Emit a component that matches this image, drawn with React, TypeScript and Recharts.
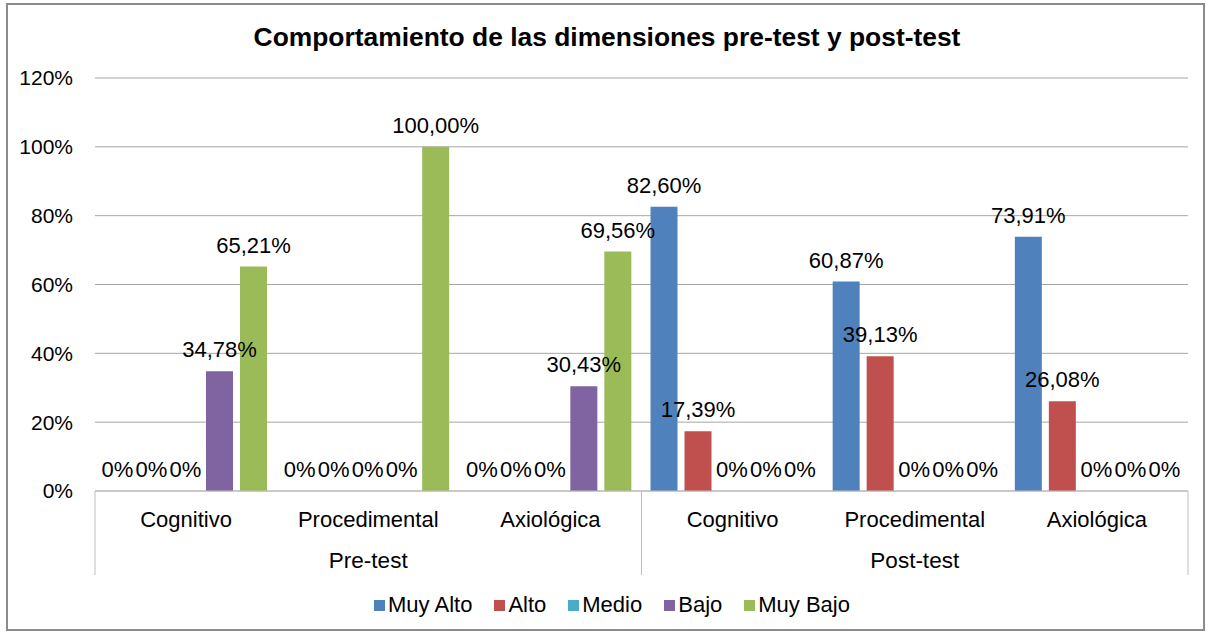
import React from "react";
import { BarChart, Bar, XAxis, YAxis, CartesianGrid, LabelList, Legend } from "recharts";

const categories = ["Cognitivo", "Procedimental", "Axiológica", "Cognitivo", "Procedimental", "Axiológica"];
const groups = ["Pre-test", "Post-test"];
const muyAlto = [0, 0, 0, 82.6, 60.87, 73.91];
const alto = [0, 0, 0, 17.39, 39.13, 26.08];
const medio = [0, 0, 0, 0, 0, 0];
const bajo = [34.78, 0, 30.43, 0, 0, 0];
const muyBajo = [65.21, 100, 69.56, 0, 0, 0];
const yTicks = [0, 20, 40, 60, 80, 100, 120];

const seriesNames = ["Muy Alto", "Alto", "Medio", "Bajo", "Muy Bajo"];
const seriesKeys = ["muyAlto", "alto", "medio", "bajo", "muyBajo"];
const seriesColors = ["#4F81BD", "#C0504D", "#4BACC6", "#8064A2", "#9BBB59"];

const data = categories.map((c, i) => ({
  id: String(i),
  cat: c,
  group: groups[Math.floor(i / 3)],
  muyAlto: muyAlto[i],
  alto: alto[i],
  medio: medio[i],
  bajo: bajo[i],
  muyBajo: muyBajo[i],
}));

const FONT = "'Liberation Sans', Arial, sans-serif";

const fmt = (v: any) => {
  const n = Number(v);
  if (n === 0) return "0%";
  return n.toFixed(2).replace(".", ",") + "%";
};

const CatTick = (props: any) => {
  const { x, y, index, width } = props;
  const n = categories.length;
  const band = (width || 1093) / n;
  const parts: any[] = [];
  parts.push(
    <text key="c" x={x} y={y + 36} textAnchor="middle" fontSize={22} fill="#000" fontFamily={FONT}>
      {categories[index]}
    </text>
  );
  if (index % 3 === 1) {
    parts.push(
      <text key="g" x={x} y={y + 77} textAnchor="middle" fontSize={22.5} fill="#000" fontFamily={FONT}>
        {groups[Math.floor(index / 3)]}
      </text>
    );
  }
  if (index % 3 === 0) {
    parts.push(<line key="l" x1={x - band / 2} x2={x - band / 2} y1={y} y2={y + 84} stroke="#BFBFBF" strokeWidth={1} />);
  }
  if (index === n - 1) {
    parts.push(<line key="r" x1={x + band / 2} x2={x + band / 2} y1={y} y2={y + 84} stroke="#BFBFBF" strokeWidth={1} />);
  }
  return <g>{parts}</g>;
};

const LegendContent = () => (
  <div
    style={{
      display: "flex",
      justifyContent: "center",
      alignItems: "center",
      height: 30,
      fontFamily: FONT,
      fontSize: 22,
      color: "#000",
      paddingLeft: 36,
    }}
  >
    {seriesNames.map((name, i) => (
      <div key={name} style={{ display: "flex", alignItems: "center", marginRight: i < seriesNames.length - 1 ? 22 : 0 }}>
        <span style={{ display: "inline-block", width: 11, height: 11, background: seriesColors[i], marginRight: 3 }} />
        <span>{name}</span>
      </div>
    ))}
  </div>
);

export default function App() {
  return (
    <div style={{ position: "absolute", left: 0, top: 0, width: 1208, height: 634, background: "#fff", fontFamily: FONT }}>
      <div
        style={{
          position: "absolute",
          left: 6,
          top: 3,
          width: 1199,
          height: 628,
          border: "2px solid #8C8C8C",
          boxSizing: "border-box",
        }}
      />
      <div
        style={{
          position: "absolute",
          left: 0,
          top: 22,
          width: 1214,
          textAlign: "center",
          fontWeight: "bold",
          fontSize: 26.4,
          fontFamily: FONT,
          color: "#000",
          lineHeight: "30px",
        }}
      >
        Comportamiento de las dimensiones pre-test y post-test
      </div>
      <BarChart
        width={1208}
        height={634}
        data={data}
        margin={{ top: 78, right: 20, left: 0, bottom: 14 }}
        barCategoryGap={9}
        barGap={7}
      >
        <CartesianGrid vertical={false} stroke="#A6A6A6" />
        <XAxis
          dataKey="id"
          type="category"
          height={99}
          interval={0}
          tickLine={false}
          tickSize={0}
          tickMargin={0}
          axisLine={{ stroke: "#BFBFBF" }}
          tick={<CatTick />}
        />
        <YAxis
          width={95}
          domain={[0, 120]}
          ticks={yTicks}
          axisLine={false}
          tickLine={false}
          tickSize={0}
          tickMargin={22}
          tickFormatter={(v: any) => v + "%"}
          tick={{ fontSize: 21, fill: "#000", fontFamily: FONT }}
        />
        <Legend verticalAlign="bottom" content={<LegendContent />} />
        {seriesKeys.map((k, i) => (
          <Bar
            key={k}
            dataKey={k}
            name={seriesNames[i]}
            fill={seriesColors[i]}
            minPointSize={0.001}
            isAnimationActive={false}
          >
            <LabelList
              dataKey={k}
              position="top"
              offset={14}
              formatter={fmt}
              style={{ fontSize: 22, fill: "#000", fontFamily: FONT }}
            />
          </Bar>
        ))}
      </BarChart>
    </div>
  );
}
